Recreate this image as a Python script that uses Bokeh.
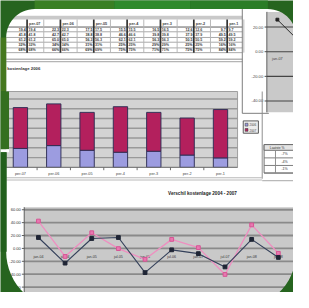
import numpy as np
from bokeh.plotting import figure
from bokeh.models import Range1d, ColumnDataSource
from bokeh.core.properties import value
from bokeh.embed import file_html
from bokeh.resources import INLINE

# ---------------- data ----------------
bar_periods = ["per-07", "per-06", "per-05", "per-4", "per-3", "per-2", "per-1"]
bar_lower = [19.4, 22.3, 17.5, 15.5, 16.5, 12.6, 9.7]
bar_upper = [41.8, 42.7, 38.8, 46.6, 39.8, 37.9, 49.5]
bar_grid = [10, 20, 30, 40, 50, 60, 70]
bar_title = "kostenlage 2006"
legend_labels = ["2006", "2007"]

line_periods = ["jan-04", "jul-04", "jan-05", "jul-05", "jan-06",
                "jul-06", "jan-07", "jul-07", "jan-08", "jul-08"]
line_dark = [16.9, -22.8, 15.4, 16.9, -37.5, -2.2, -8.1, -28.7, 14.0, -14.0]
line_pink = [42.4, -12.5, 24.3, -0.3, -16.9, 14.0, 1.2, -40.4, 36.5, -7.6]
line_ticks = [60, 40, 20, 0, -20, -40, -60]
line_title = "Verschil kostenlage 2004 - 2007"

side_ticks = [20, 0, -20, -40]
side_values = [26.0, 4.6]
side_label = "jan-07"

small_header = "Laatste %"
small_rows = ["-7%", "-4%", "-1%"]

# ---------------- figure ----------------
W, H = 293, 292
S = W / 309.0
FONT = value("Liberation Sans")


def fs(px):
    return f"{px * S:.1f}px"


def lw(px):
    return px * S


p = figure(width=W, height=H, x_range=Range1d(0, 309), y_range=Range1d(308, 0),
           output_backend="svg", toolbar_location=None, min_border=0,
           x_axis_location=None, y_axis_location=None)
p.grid.visible = False
p.outline_line_color = None
p.background_fill_color = "white"
p.border_fill_color = "#2a6a22"


def rng(p0, v0, p1, v1, lo, hi):
    k = (v1 - v0) / (p1 - p0)
    return Range1d(start=v0 + (lo - p0) * k, end=v0 + (hi - p0) * k)


# sub-chart placements (reference pixel boxes)
p.extra_x_ranges = {"bx": rng(21, 0, 232, 6, 0, 309),
                    "lx": rng(40, 0, 293, 9, 0, 309),
                    "rx": rng(292, 0, 320, 1, 0, 309)}
p.extra_y_ranges = {"by": rng(176, 0, 103.9, 70, 308, 0),
                    "ly": rng(261.5, 0, 220.7, 60, 308, 0),
                    "ry": rng(54, 0, 28, 20, 308, 0)}


def txt(x, y, t, size, color="#333333", align="left", baseline="middle",
        bold=False, xr="default", yr="default"):
    p.text(x=x, y=y, text=t, text_font=FONT, text_font_size=fs(size),
           text_color=color, text_align=align, text_baseline=baseline,
           text_font_style="bold" if bold else "normal",
           x_range_name=xr, y_range_name=yr)


def seg(x0, y0, x1, y1, color, width, xr="default", yr="default"):
    p.segment(x0=x0, y0=y0, x1=x1, y1=y1, line_color=color, line_width=lw(width),
              x_range_name=xr, y_range_name=yr)


bidx = np.arange(len(bar_periods))
btotal = [a + b for a, b in zip(bar_lower, bar_upper)]

# ---------------- top table ----------------
p.quad(left=[6], right=[255], top=[16], bottom=[20], fill_color="#c9c9c9", line_color=None)
rows_y = [28, 33, 39, 44, 50, 55]
seg([6] * 6, rows_y, [255] * 6, rows_y, ["#555555"] + ["#a5a5a5"] * 5, 1)
seg([6, 6], [62, 64.5], [255, 255], [62, 64.5], "#b5b5b5", 1.4)
gx = bidx + 0.2
seg(list(gx), [20] * 7, list(gx), [55] * 7, "#333333", 1.8, xr="bx")
seg(list(gx + 0.5), [20] * 7, list(gx + 0.5), [55] * 7, "#b5b5b5", 1, xr="bx")
txt(list(gx + 0.06), [24.5] * 7, bar_periods, 4, color="#444444", bold=True, xr="bx")
row_centers = [30.5, 36, 41.5, 47, 52.5]
row_vals = [bar_lower, bar_upper, btotal,
            [f"{a / t * 100:.0f}%" for a, t in zip(bar_lower, btotal)],
            [f"{b / t * 100:.0f}%" for b, t in zip(bar_upper, btotal)]]
for ry_, vals in zip(row_centers, row_vals):
    labels = [v if isinstance(v, str) else f"{v:.1f}" for v in vals]
    txt(list(gx - 0.04), [ry_] * 7, labels, 3.8, color="#333333", align="right",
        bold=True, xr="bx")
    txt(list(gx + 0.04), [ry_] * 7, labels, 3.8, color="#444444", bold=True, xr="bx")

# ---------------- right partial chart ----------------
seg([255, 255], [9, 119], [255, 283], [119, 119], "#777777", 1)
p.quad(left=[282], right=[312], top=[12], bottom=[118], fill_color="#c9c9c9", line_color=None)
seg([281], [12], [281], [118], "#333333", 1)
seg([281] * 4, side_ticks, [312] * 4, side_ticks, "#444444", 1.2, yr="ry")
seg([278.5] * 4, side_ticks, [281] * 4, side_ticks, "#444444", 1, yr="ry")
txt([277] * 4, side_ticks, [f"{t:.2f}" for t in side_ticks], 4.3, color="#444444",
    align="right", yr="ry")
p.line(x=[0, 1], y=side_values, line_color="#222222", line_width=lw(1),
       x_range_name="rx", y_range_name="ry")
p.scatter(x=[0], y=side_values[:1], marker="square", size=3 * S, color="#222222",
          x_range_name="rx", y_range_name="ry")
txt([0], [62], [side_label], 4, color="#444444", align="center", xr="rx")

# ---------------- bar chart ----------------
txt([7], [72], [bar_title], 4.5, color="#333333", bold=True)
p.quad(left=[6], right=[250], top=[96], bottom=[176], fill_color="#d3d3d3",
       line_color="#9a9a9a", line_width=lw(1))
seg([6] * len(bar_grid), bar_grid, [250] * len(bar_grid), bar_grid, "#999999", 1.5, yr="by")
src = ColumnDataSource(dict(x=bidx, lower=bar_lower, total=btotal))
p.vbar(x="x", width=0.43, bottom=0, top="lower", source=src, fill_color="#9c9ce0",
       line_color="#2d2d55", line_width=lw(1), x_range_name="bx", y_range_name="by")
p.vbar(x="x", width=0.43, bottom="lower", top="total", source=src, fill_color="#b3205d",
       line_color="#2d2d55", line_width=lw(1), x_range_name="bx", y_range_name="by")
seg([6], [0], [250], [0], "#777777", 1, yr="by")
tk = list(bidx[:-1] + 0.5)
seg(tk, [176] * len(tk), tk, [179] * len(tk), "#666666", 1, xr="bx")
txt(list(bidx), [182.5] * 7, bar_periods, 4, color="#444444", align="center", xr="bx")
seg([276], [96], [276], [188], "#8a8a8a", 1)
seg([6, 6, 276], [187, 189.3, 190], [276, 276, 312], [187, 189.3, 190], "#b9b9b9", 1.2)
# legend
p.quad(left=[256], right=[272], top=[127], bottom=[140], fill_color="#ececec",
       line_color="#555555", line_width=lw(1))
p.quad(left=[258, 258], right=[261, 261], top=[129.5, 135], bottom=[132.5, 138],
       fill_color=["#9c9ce0", "#b3205d"], line_color="#444444", line_width=lw(0.6))
txt([262.5, 262.5], [131, 136.5], legend_labels, 3.3, color="#444444")
# small table
p.quad(left=[278], right=[312], top=[152], bottom=[182], fill_color="white",
       line_color="#666666", line_width=lw(1))
p.quad(left=[278], right=[312], top=[152], bottom=[158], fill_color="#e4e4e4",
       line_color="#666666", line_width=lw(1))
seg([278] * 3, [166, 174, 182], [312] * 3, [166, 174, 182], "#777777", 1)
seg([290], [158], [290], [182], "#888888", 1)
txt([284], [155.2], [small_header], 3.5, color="#333333")
txt([303] * 3, [162, 170, 178], small_rows, 3.8, color="#333333", align="right")

# ---------------- line chart ----------------
txt([213], [204], [line_title], 4.8, color="#222222", align="center", bold=True)
p.quad(left=[25], right=[312], top=[218], bottom=[310], fill_color="#c9c9c9", line_color=None)
n = len(line_ticks)
seg([25] * n, line_ticks, [312] * n, line_ticks, "#8a8a8a", 1.9, yr="ly")
seg([25], [218], [25], [310], "#555555", 1)
seg([22.5] * n, line_ticks, [25] * n, line_ticks, "#555555", 1, yr="ly")
txt([21.5] * n, line_ticks, [f"{t:.2f}" for t in line_ticks], 4.3, color="#333333",
    align="right", yr="ly")
lidx = list(range(len(line_periods)))
txt(lidx, [270.5] * len(lidx), line_periods, 3.8, color="#333333", align="center", xr="lx")
p.line(x=lidx, y=line_pink, line_color="#ee8fc0", line_width=lw(1.4),
       x_range_name="lx", y_range_name="ly")
p.scatter(x=lidx, y=line_pink, marker="square", size=4 * S, fill_color="#e878b0",
          line_color="#d65594", x_range_name="lx", y_range_name="ly")
p.line(x=lidx, y=line_dark, line_color="#34405a", line_width=lw(1.2),
       x_range_name="lx", y_range_name="ly")
p.scatter(x=lidx, y=line_dark, marker="square", size=4 * S, color="#1f2535",
          x_range_name="lx", y_range_name="ly")

# ---------------- green photo frame ----------------


def rrect(x0, y0, x1, y1, rt, rb, k=16):
    t = np.linspace(0, np.pi / 2, k)
    xs, ys = [], []
    cx, cy = x0 + rt, y0 + rt
    xs += list(cx - rt * np.cos(t)); ys += list(cy - rt * np.sin(t))
    cx, cy = x1 - rt, y0 + rt
    xs += list(cx + rt * np.sin(t)); ys += list(cy - rt * np.cos(t))
    cx, cy = x1 - rb, y1 - rb
    xs += list(cx + rb * np.cos(t)); ys += list(cy + rb * np.sin(t))
    cx, cy = x0 + rb, y1 - rb
    xs += list(cx - rb * np.sin(t)); ys += list(cy + rb * np.cos(t))
    return xs, ys


ix, iy = rrect(6, 9, 312, 325, 30, 60)
ox, oy = [-10, 320, 320, -10], [-10, -10, 320, 320]
p.multi_polygons(xs=[[[ox, ix]]], ys=[[[oy, iy]]], fill_color="#26641f", line_color=None)
# colour variations of the green surround
p.quad(left=[36, 120, 200], right=[120, 200, 282], top=[-2, -2, -2], bottom=[9, 9, 9],
       fill_color=["#3a7f23", "#2f8a2c", "#2b7d27"], line_color=None)
p.quad(left=[0, 0, 0, 0], right=[6, 9, 9, 6.5], top=[39, 96, 157, 160],
       bottom=[96, 157, 160, 265],
       fill_color=["#45781f", "#346f20", "white", "#22601d"], line_color=None)

with open("out.html", "w") as f:
    f.write(file_html(p, INLINE))
